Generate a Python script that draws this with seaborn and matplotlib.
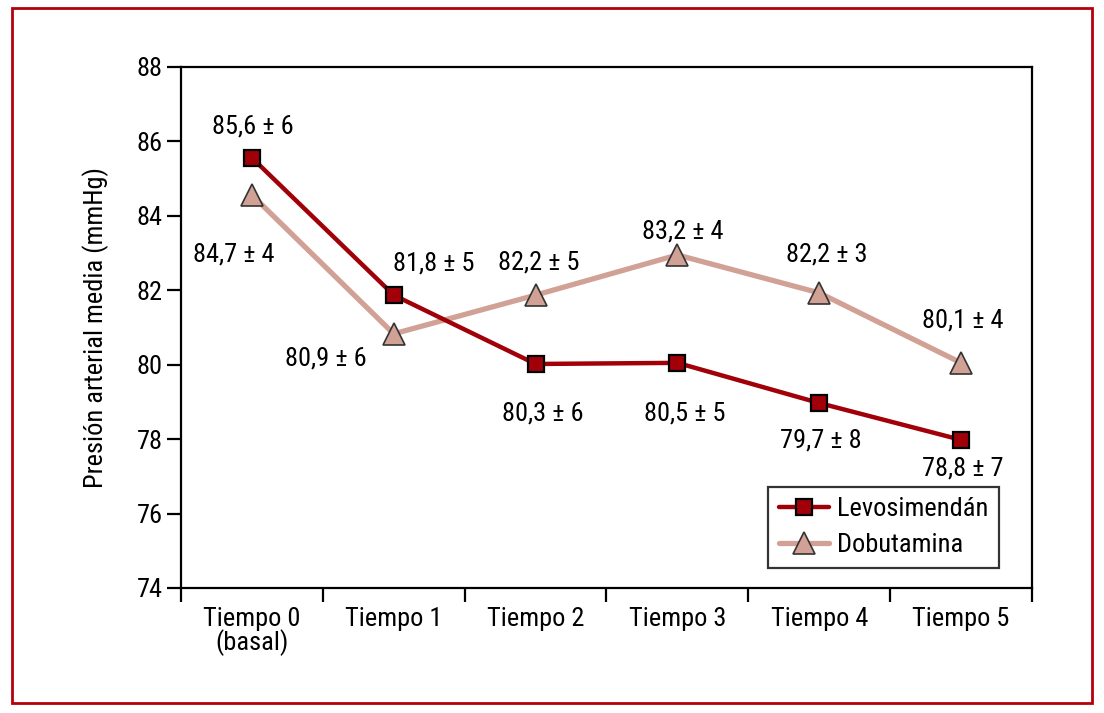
import numpy as np
import pandas as pd
import matplotlib
matplotlib.use('Agg')
import matplotlib.pyplot as plt
import seaborn as sns

# ── data ───────────────────────────────────────────────────────────────────
tiempos = ['Tiempo 0\n(basal)', 'Tiempo 1', 'Tiempo 2', 'Tiempo 3', 'Tiempo 4', 'Tiempo 5']
levo = [85.56, 81.87, 80.02, 80.05, 78.97, 77.98]
dobu = [84.56, 80.83, 81.87, 82.95, 81.93, 80.05]
levo_labels = ['85,6 ± 6', '81,8 ± 5', '80,3 ± 6', '80,5 ± 5', '79,7 ± 8', '78,8 ± 7']
dobu_labels = ['84,7 ± 4', '80,9 ± 6', '82,2 ± 5', '83,2 ± 4', '82,2 ± 3', '80,1 ± 4']
# label anchor positions (category index, mmHg)
levo_lab_x = [0.01, 1.28, 2.05, 3.05, 4.01, 5.01]
levo_lab_y = [86.39, 82.73, 78.70, 78.70, 77.97, 77.22]
dobu_lab_x = [-0.13, 0.52, 2.02, 3.04, 4.05, 5.01]
dobu_lab_y = [82.95, 80.18, 82.76, 83.57, 82.95, 81.20]

sns.set_theme(style='white')
plt.rcParams['font.family'] = ['Roboto Condensed', 'Liberation Sans Narrow', 'Liberation Sans', 'DejaVu Sans']
plt.rcParams['font.stretch'] = 'condensed'
plt.rcParams['text.color'] = 'black'
plt.rcParams['axes.labelcolor'] = 'black'
plt.rcParams['xtick.color'] = 'black'
plt.rcParams['ytick.color'] = 'black'

LEVO_C = '#a10008'
DOBU_C = '#d1a196'
FS = 19

df = pd.DataFrame({'x': np.arange(len(tiempos)), 'Levosimendán': levo, 'Dobutamina': dobu})

fig = plt.figure(figsize=(11.04, 7.13), dpi=100)
fig.patch.set_facecolor('white')
ax = fig.add_axes([181 / 1104, 1 - 588 / 713, 851 / 1104, 521 / 713])

sns.lineplot(data=df, x='x', y='Dobutamina', ax=ax, color=DOBU_C, linewidth=3.8,
             marker='^', markersize=16, markerfacecolor=DOBU_C, markeredgecolor='#333333',
             markeredgewidth=1.2, label='Dobutamina', zorder=3)
sns.lineplot(data=df, x='x', y='Levosimendán', ax=ax, color=LEVO_C, linewidth=3.2,
             marker='s', markersize=11, markerfacecolor=LEVO_C, markeredgecolor='black',
             markeredgewidth=1.6, label='Levosimendán', zorder=4)

for x, y, t in zip(levo_lab_x, levo_lab_y, levo_labels):
    ax.text(x, y, t, ha='center', va='center', fontsize=FS)
for x, y, t in zip(dobu_lab_x, dobu_lab_y, dobu_labels):
    ax.text(x, y, t, ha='center', va='center', fontsize=FS)

ax.set_xlim(-0.5, len(tiempos) - 0.5)
ax.set_ylim(74, 88)
ax.set_yticks(np.arange(74, 89, 2))
ax.set_xticks(np.arange(len(tiempos)))
ax.set_xticklabels(tiempos, fontsize=FS, linespacing=0.9)
ax.set_xticks(np.arange(-0.5, len(tiempos)), minor=True)
ax.tick_params(axis='x', which='major', length=0, pad=14)
ax.tick_params(axis='x', which='minor', length=10, width=1.6, direction='out', bottom=True)
ax.tick_params(axis='y', length=10, width=1.6, direction='out', left=True, labelsize=FS, pad=3)
ax.set_xlabel('')
ax.set_ylabel('Presión arterial media (mmHg)', fontsize=FS, labelpad=20)
for s in ax.spines.values():
    s.set_edgecolor('black')
    s.set_linewidth(1.6)

h, l = ax.get_legend_handles_labels()
leg = ax.legend(h[::-1], l[::-1], loc='upper left', bbox_to_anchor=(0.69, 0.194),
                fontsize=FS, frameon=True, fancybox=False, edgecolor='black',
                borderpad=0.4, handlelength=1.9, handletextpad=0.3, labelspacing=0.45,
                borderaxespad=0)
leg.get_frame().set_linewidth(1.6)

# red outer frame
fig.patches.append(matplotlib.patches.Rectangle((12 / 1104, 1 - 703 / 713), 1080 / 1104, 695 / 713,
                                                transform=fig.transFigure, fill=False,
                                                edgecolor='#b5000c', linewidth=2))

fig.savefig('out.png', dpi=100, facecolor='white')
plt.close()
